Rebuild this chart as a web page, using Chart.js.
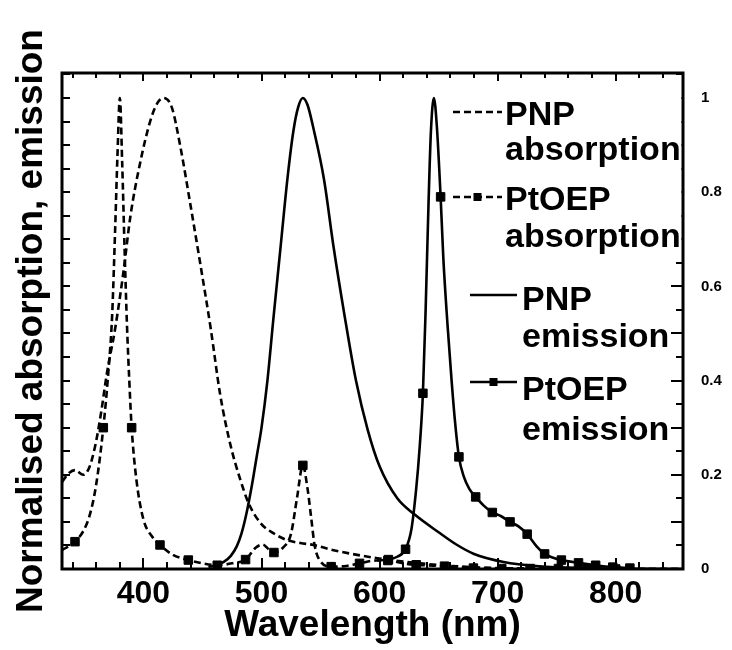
<!DOCTYPE html>
<html>
<head>
<meta charset="utf-8">
<script src="https://cdn.jsdelivr.net/npm/chart.js@4.4.1/dist/chart.umd.min.js"></script>
<style>
  html, body { margin: 0; padding: 0; background: #fff; }
</style>
</head>
<body>
<canvas id="grafica" width="732" height="650"></canvas>
<script>
// axis labels
const xLabels = [400, 500, 600, 700, 800];
const yLabels = [0, 0.2, 0.4, 0.6, 0.8, 1];

// PNP absorption (dashed)
const pnpAbsWl  = [331, 337, 342, 349, 354, 359, 364, 369, 376, 383, 389, 397, 406, 412, 417, 424, 431, 440, 448, 457, 465, 474, 482, 489, 499, 510, 522, 533, 544, 561, 581, 598, 620, 652, 700, 760, 857];
const pnpAbsVal = [0.185, 0.204, 0.21, 0.2, 0.215, 0.26, 0.33, 0.415, 0.51, 0.63, 0.75, 0.86, 0.953, 0.99, 1.0, 0.98, 0.9, 0.77, 0.65, 0.51, 0.37, 0.26, 0.19, 0.14, 0.098, 0.076, 0.061, 0.055, 0.051, 0.04, 0.03, 0.023, 0.016, 0.008, 0.002, 0.0005, 0];

// PtOEP absorption (dashed + squares)
const ptoepAbsWl  = [331, 342, 350, 355, 360, 366, 370, 373.5, 376, 378, 380, 382, 384, 386, 388, 390, 394, 400, 407, 414, 425, 438, 450, 462.5, 475, 486.5, 495, 501, 506, 510.5, 518, 525, 530, 535, 539, 542, 545, 550, 559, 570, 583, 597, 607, 620, 631, 655, 679.5, 703.5, 727.5, 751.5, 776, 800, 830, 857];
const ptoepAbsVal = [0.04, 0.058, 0.085, 0.119, 0.18, 0.30, 0.41, 0.54, 0.72, 0.88, 1.0, 0.86, 0.68, 0.52, 0.40, 0.30, 0.19, 0.105, 0.07, 0.051, 0.03, 0.019, 0.012, 0.008, 0.012, 0.02, 0.045, 0.052, 0.042, 0.035, 0.045, 0.075, 0.15, 0.22, 0.17, 0.11, 0.05, 0.016, 0.005, 0.006, 0.012, 0.018, 0.018, 0.012, 0.009, 0.006, 0.002, 0.001, 0.001, 0.001, 0.001, 0, 0, 0];
const ptoepAbsMarks = [342, 366, 390, 414, 438, 462.5, 486.5, 510.5, 535, 559, 583, 607, 631, 655, 679.5, 703.5, 727.5, 751.5, 776, 800];

// PNP emission (solid)
const pnpEmWl  = [455, 462, 468, 474, 479, 483, 487, 492, 496, 500, 505, 510, 516, 522, 527, 531, 535, 539, 544, 553, 561, 570, 580, 590, 600, 615, 630, 650, 665, 680, 705, 735, 775, 820, 857];
const pnpEmVal = [0.004, 0.008, 0.015, 0.028, 0.048, 0.075, 0.115, 0.18, 0.24, 0.30, 0.40, 0.53, 0.68, 0.83, 0.93, 0.98, 1.0, 0.985, 0.935, 0.826, 0.684, 0.543, 0.40, 0.295, 0.218, 0.15, 0.115, 0.078, 0.052, 0.032, 0.015, 0.006, 0.002, 0.0005, 0];

// PtOEP emission (solid + squares)
const ptoepEmWl  = [598, 607.5, 615, 622, 627, 631, 634, 636.7, 639, 641.5, 643.5, 646, 648.5, 651.7, 654, 657.5, 661, 664, 667.2, 671.5, 676, 681.4, 688, 695.5, 703, 710.5, 718, 725, 733, 739.8, 747, 754, 768.5, 783, 797.5, 812];
const ptoepEmVal = [0.018, 0.02, 0.026, 0.042, 0.085, 0.17, 0.26, 0.373, 0.55, 0.78, 0.93, 1.0, 0.94, 0.79, 0.66, 0.52, 0.40, 0.31, 0.238, 0.195, 0.17, 0.153, 0.135, 0.12, 0.112, 0.10, 0.09, 0.074, 0.048, 0.032, 0.024, 0.019, 0.013, 0.008, 0.004, 0.002];
const ptoepEmMarks = [607.5, 622, 636.7, 651.7, 667.2, 681.4, 695.5, 710.5, 725, 739.8, 754, 768.5, 783, 797.5, 812];

const X_MIN = 331, X_MAX = 857, Y_MAX = 1.053;
const DASH = [7, 4];
const LW = 2.6;

Chart.defaults.font.family = "'Liberation Sans', Arial, Helvetica, sans-serif";
Chart.defaults.color = "#000";

function serie(label, wl, val, marks, dash) {
    return {
        label: label,
        data: wl.map((x, i) => ({x: x, y: val[i]})),
        borderColor: "#000",
        backgroundColor: "#000",
        borderWidth: LW,
        borderDash: dash,
        cubicInterpolationMode: "monotone",
        fill: false,
        pointStyle: "rect",
        pointBorderColor: "#000",
        pointBorderWidth: 1,
        pointRadius: ctx => (marks && ctx.raw && marks.includes(ctx.raw.x)) ? 6 : 0,
        pointHoverRadius: 0,
        marks: marks
    };
}

// legend placement (first line baseline, second line baseline)
const legendItems = [
    {ds: 0, x0: 453, x1: 502, y: 112, tx: 505, text: ["PNP", "absorption"], base: [125, 160]},
    {ds: 1, x0: 453, x1: 502, y: 197, tx: 505, text: ["PtOEP", "absorption"], base: [210, 247]},
    {ds: 2, x0: 470, x1: 517, y: 295, tx: 522, text: ["PNP", "emission"], base: [310, 347]},
    {ds: 3, x0: 470, x1: 517, y: 382, tx: 522, text: ["PtOEP", "emission"], base: [400, 440]}
];

const marcPlugin = {
    id: "marc",
    afterDraw(chart) {
        const ctx = chart.ctx;
        const a = chart.chartArea;
        const sx = chart.scales.x, sy = chart.scales.y;
        ctx.save();
        ctx.strokeStyle = "#000";
        ctx.lineWidth = 2;
        ctx.setLineDash([]);
        ctx.beginPath();
        for (let v = 340; v <= 840; v += 20) {
            const px = Math.round(sx.getPixelForValue(v));
            const major = v % 100 === 0;
            ctx.moveTo(px, a.top); ctx.lineTo(px, a.top + (major ? 8 : 5));
            ctx.moveTo(px, a.bottom); ctx.lineTo(px, a.bottom - (major ? 11 : 7));
        }
        for (let k = 0; k <= 21; k++) {
            const py = Math.round(sy.getPixelForValue(k * 0.05));
            ctx.moveTo(a.left, py); ctx.lineTo(a.left + 8, py);
            ctx.moveTo(a.right, py); ctx.lineTo(a.right - (k % 2 === 0 ? 12 : 7), py);
        }
        ctx.stroke();

        // white box behind the upper legend
        ctx.fillStyle = "#fff";
        ctx.fillRect(448, 88, a.right - 449.5, 174);

        ctx.lineWidth = 3;
        ctx.strokeRect(a.left, a.top, a.right - a.left, a.bottom - a.top);

        // legend
        ctx.font = "bold 34px 'Liberation Sans', Arial, sans-serif";
        ctx.fillStyle = "#000";
        ctx.textAlign = "left";
        ctx.textBaseline = "alphabetic";
        legendItems.forEach(it => {
            const ds = chart.data.datasets[it.ds];
            ctx.lineWidth = LW;
            ctx.setLineDash(ds.borderDash || []);
            ctx.beginPath();
            ctx.moveTo(it.x0, it.y); ctx.lineTo(it.x1, it.y);
            ctx.stroke();
            ctx.setLineDash([]);
            if (ds.marks) {
                const cx = (it.x0 + it.x1) / 2;
                ctx.fillRect(cx - 4, it.y - 4, 8, 8);
            }
            ctx.fillText(it.text[0], it.tx, it.base[0]);
            ctx.fillText(it.text[1], it.tx, it.base[1]);
        });
        ctx.restore();
    }
};

const grafica = new Chart(document.getElementById("grafica").getContext("2d"), {
    type: "line",
    data: {
        datasets: [
            serie("PNP absorption", pnpAbsWl, pnpAbsVal, null, DASH),
            serie("PtOEP absorption", ptoepAbsWl, ptoepAbsVal, ptoepAbsMarks, DASH),
            serie("PNP emission", pnpEmWl, pnpEmVal, null, []),
            serie("PtOEP emission", ptoepEmWl, ptoepEmVal, ptoepEmMarks, [])
        ]
    },
    options: {
        responsive: false,
        animation: false,
        devicePixelRatio: 1,
        layout: {padding: {top: 73, left: 0, right: 0, bottom: 0}},
        plugins: {legend: {display: false}, tooltip: {enabled: false}},
        scales: {
            x: {
                type: "linear",
                position: "bottom",
                min: X_MIN,
                max: X_MAX,
                grid: {display: false, drawTicks: false},
                border: {display: false},
                afterBuildTicks: s => { s.ticks = xLabels.map(v => ({value: v})); },
                afterFit: s => { s.height = 81; },
                ticks: {
                    autoSkip: false,
                    maxRotation: 0,
                    padding: 6,
                    font: {size: 32, weight: "bold"},
                    callback: v => String(v)
                },
                title: {
                    display: true,
                    text: "Wavelength (nm)",
                    font: {size: 37, weight: "bold"},
                    padding: {top: 0, bottom: 2}
                }
            },
            y: {
                type: "linear",
                position: "left",
                min: 0,
                max: Y_MAX,
                grid: {display: false, drawTicks: false},
                border: {display: false},
                ticks: {display: false},
                afterFit: s => { s.width = 62; },
                title: {
                    display: true,
                    text: "Normalised absorption, emission",
                    font: {size: 37, weight: "bold"},
                    padding: {top: 10, bottom: 0}
                }
            },
            y2: {
                type: "linear",
                position: "right",
                min: 0,
                max: Y_MAX,
                grid: {display: false, drawTicks: false},
                border: {display: false},
                afterBuildTicks: s => { s.ticks = yLabels.map(v => ({value: v})); },
                afterFit: s => { s.width = 49; },
                ticks: {
                    padding: 18,
                    font: {size: 15, weight: "bold"},
                    callback: v => String(v)
                }
            }
        }
    },
    plugins: [marcPlugin]
});
</script>
</body>
</html>
